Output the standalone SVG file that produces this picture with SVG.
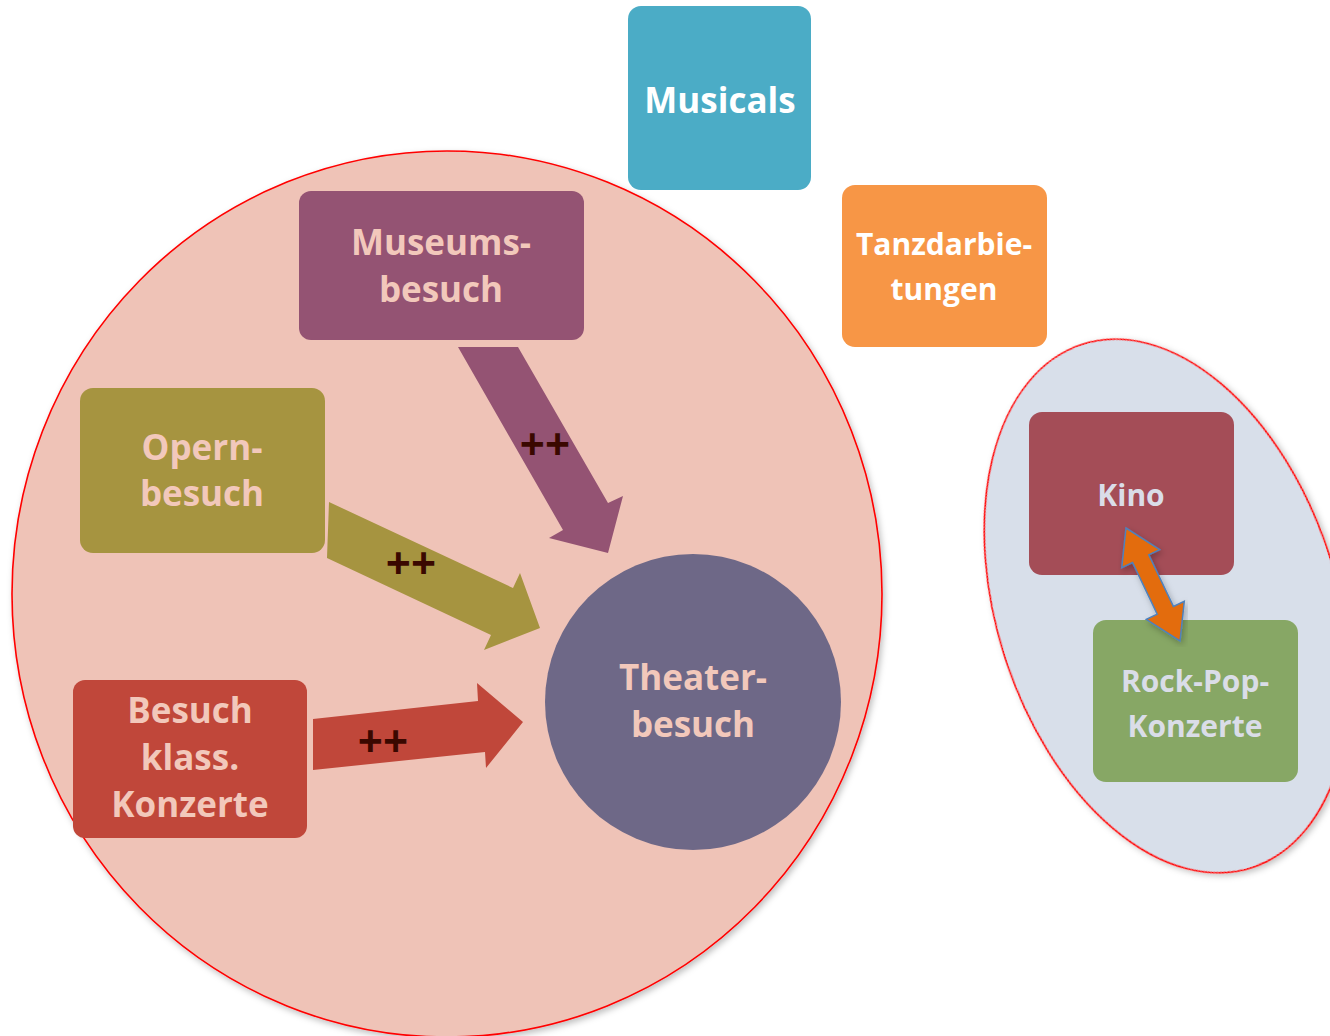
<svg xmlns="http://www.w3.org/2000/svg" width="1330" height="1036" viewBox="0 0 1330 1036">
<defs>
<style>
.lbl{font-family:"Open Sans","Liberation Sans",sans-serif;font-weight:700;text-anchor:middle}
.pink{fill:#F2C8BB;font-size:35px}
.white{fill:#FFFFFF}
.grey{fill:#DADDE8;font-size:30px}
.pp{fill:#3A0800;font-size:44px;font-family:"Open Sans","Liberation Sans",sans-serif;font-weight:700;text-anchor:middle}
.cluster{stroke:#FF0000;stroke-width:1.6}
</style>
<filter id="sh" x="-5%" y="-5%" width="110%" height="110%">
<feDropShadow dx="2" dy="3" stdDeviation="3" flood-color="#000" flood-opacity="0.25"/>
</filter>
</defs>
<rect width="1330" height="1036" fill="#FFFFFF"/>
<g id="cluster-main">
<ellipse class="cluster" cx="447" cy="594" rx="435" ry="443" fill="#EFC3B7" filter="url(#sh)"/>
</g>
<g id="cluster-right">
<ellipse class="cluster" cx="1167" cy="606" rx="170" ry="275" transform="rotate(-18 1167 606)" fill="#D8DFEA" filter="url(#sh)"/>
</g>
<g id="node-musicals">
<rect x="628" y="6" width="183" height="184" rx="13" fill="#4BACC6"/>
<text class="lbl white" x="720" y="113" font-size="35">Musicals</text>
</g>
<g id="node-tanz">
<rect x="842" y="185" width="205" height="162" rx="13" fill="#F79646"/>
<text class="lbl white" x="944" y="255" font-size="30">Tanzdarbie-</text>
<text class="lbl white" x="944" y="300" font-size="30">tungen</text>
</g>
<g id="node-museum">
<rect x="299" y="191" width="285" height="149" rx="12" fill="#945373"/>
<text class="lbl pink" x="441" y="255">Museums-</text>
<text class="lbl pink" x="441" y="302">besuch</text>
</g>
<g id="node-oper">
<rect x="80" y="388" width="245" height="165" rx="13" fill="#A69440"/>
<text class="lbl pink" x="202" y="460">Opern-</text>
<text class="lbl pink" x="202" y="506">besuch</text>
</g>
<g id="node-konzert">
<rect x="73" y="680" width="234" height="158" rx="12" fill="#C0473A"/>
<text class="lbl pink" x="190" y="723">Besuch</text>
<text class="lbl pink" x="190" y="770">klass.</text>
<text class="lbl pink" x="190" y="817">Konzerte</text>
</g>
<g id="node-theater">
<circle cx="693" cy="702" r="148" fill="#6E6887"/>
<text class="lbl pink" x="693" y="690">Theater-</text>
<text class="lbl pink" x="693" y="737">besuch</text>
</g>
<g id="node-kino">
<rect x="1029" y="412" width="205" height="163" rx="13" fill="#A44D57"/>
<text class="lbl grey" x="1131" y="506">Kino</text>
</g>
<g id="node-rockpop">
<rect x="1093" y="620" width="205" height="162" rx="13" fill="#87A765"/>
<text class="lbl grey" x="1195" y="692">Rock-Pop-</text>
<text class="lbl grey" x="1195" y="737">Konzerte</text>
</g>
<g id="connectors">
<polygon points="458,347 518,347 608,503 623,496 608,553 549,538 563,530" fill="#945373"/>
<polygon points="329,502 513,588 520,573 540,628 484,650 491,635 327,558" fill="#A69440"/>
<polygon points="313,719 478,701 477,683 523,722 486,768 485,752 313,770" fill="#C0473A"/>
<polygon points="1126,528 1159.7,549.6 1148.8,554.8 1173.4,606.4 1184.3,601.2 1180,641 1146.3,619.4 1157.2,614.2 1132.6,562.6 1121.7,567.8" fill="#E36C0A" stroke="#4F81BD" stroke-width="1.5" stroke-linejoin="miter" filter="url(#sh)"/>
<text class="pp" x="545" y="460">++</text>
<text class="pp" x="411" y="579">++</text>
<text class="pp" x="383" y="757">++</text>
</g>
</svg>
